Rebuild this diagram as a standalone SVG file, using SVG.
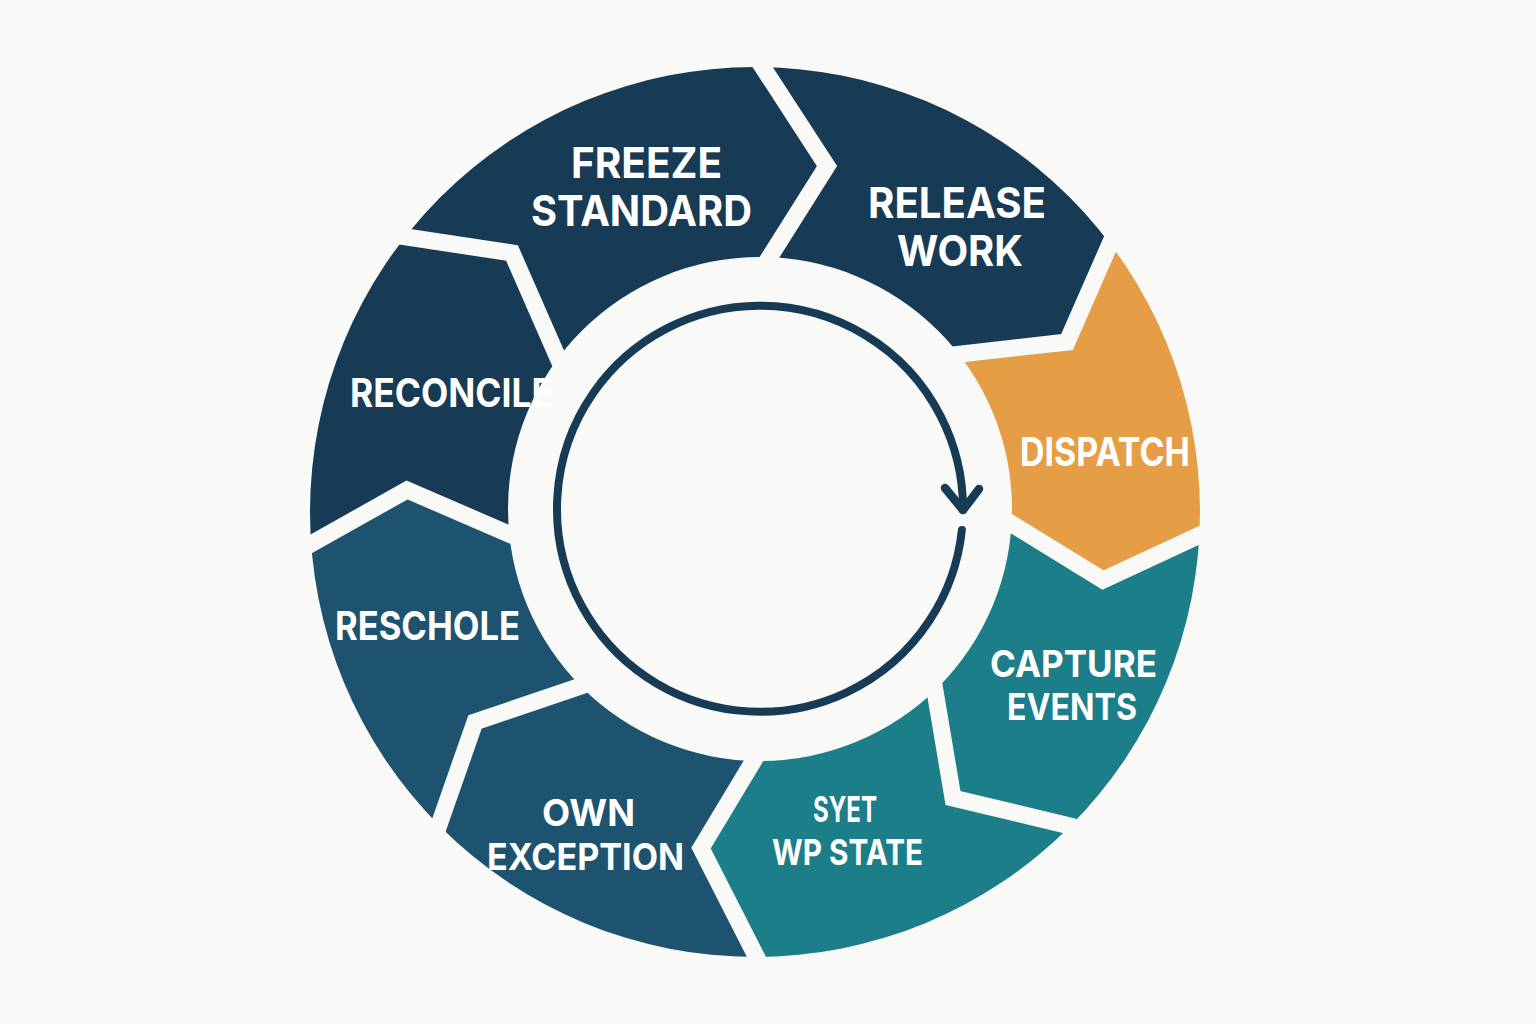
<svg xmlns="http://www.w3.org/2000/svg" width="1536" height="1024" viewBox="0 0 1536 1024">
<defs>
<style>
.bg{fill:#f9f9f7}
.navy{fill:#173a55}
.blue{fill:#1d536e}
.teal{fill:#1c7e89}
.orange{fill:#e59e45}
.gap{fill:none;stroke:#f9f9f7;stroke-width:17;stroke-linejoin:miter;stroke-miterlimit:10}
.lbl{font-family:Inter,"Open Sans","Liberation Sans",sans-serif;font-weight:700;fill:#ffffff;text-anchor:middle}
.big{font-size:43px}
.mid{font-size:39px}
.tight{font-size:37px}
.sm{font-size:36px}
.cyc{fill:none;stroke:#173a55;stroke-width:8;stroke-linecap:round;stroke-linejoin:round}
</style>
<clipPath id="ring">
<path clip-rule="evenodd" d="M310,512 A445,445 0 1,0 1200,512 A445,445 0 1,0 310,512 Z M508,509 A252,252 0 1,1 1012,509 A252,252 0 1,1 508,509 Z"/>
</clipPath>
</defs>
<rect class="bg" x="0" y="0" width="1536" height="1024"/>
<g clip-path="url(#ring)">
<g id="freeze-standard">
<polygon class="navy" points="760,509 571.8,389.5 512,253 374.2,232.2 191.5,100.5 734.4,-190.5 742.5,36 827,166 751.6,285.6"/>
</g>
<g id="release-work">
<polygon class="navy" points="760,509 751.6,285.6 827,166 742.5,36 734.4,-190.5 1302.4,66.6 1124,212 1067,342 929,357.6"/>
</g>
<g id="dispatch">
<polygon class="orange" points="760,509 929,357.6 1067,342 1124,212 1302.4,66.6 1459.8,527.3 1229,521.5 1103,580 984.7,507.2"/>
</g>
<g id="capture-events">
<polygon class="teal" points="760,509 984.7,507.2 1103,580 1229,521.5 1459.8,527.3 1269.5,989.1 1105,834.4 953,798 929.6,658.9"/>
</g>
<g id="set-wp-state">
<polygon class="teal" points="760,509 929.6,658.9 953,798 1105,834.4 1269.5,989.1 779.5,1208.7 773.8,991 701,848 769.9,733.6"/>
</g>
<g id="own-exception">
<polygon class="blue" points="760,509 769.9,733.6 701,848 773.8,991 779.5,1208.7 274.6,1013.4 429.5,852 475,722 612.8,675.2"/>
</g>
<g id="reschole">
<polygon class="blue" points="760,509 612.8,675.2 475,722 429.5,852 274.6,1013.4 64,583.4 282.2,560.2 407,490 539.6,547.2"/>
</g>
<g id="reconcile">
<polygon class="navy" points="760,509 539.6,547.2 407,490 282.2,560.2 64,583.4 191.5,100.5 374.2,232.2 512,253 571.8,389.5"/>
</g>
</g>
<g id="connectors">
<polyline class="gap" points="751.6,285.6 827,166 742.5,36"/>
<polyline class="gap" points="929,357.6 1067,342 1124,212"/>
<polyline class="gap" points="984.7,507.2 1103,580 1229,521.5"/>
<polyline class="gap" points="929.6,658.9 953,798 1105,834.4"/>
<polyline class="gap" points="769.9,733.6 701,848 773.8,991"/>
<polyline class="gap" points="612.8,675.2 475,722 429.5,852"/>
<polyline class="gap" points="539.6,547.2 407,490 282.2,560.2"/>
<polyline class="gap" points="571.8,389.5 512,253 374.2,232.2"/>
<path class="cyc" d="M961.9,529.9 A203,203 0 1,1 963,510"/>
<polyline class="cyc" style="stroke-width:8.5" points="945,488 963,510 979,489"/>
</g>
<g id="labels">
<text class="lbl big" x="646.5" y="178" textLength="151" lengthAdjust="spacingAndGlyphs">FREEZE</text>
<text class="lbl big" x="641.5" y="226" textLength="221" lengthAdjust="spacingAndGlyphs">STANDARD</text>
<text class="lbl big" x="957" y="218" textLength="178" lengthAdjust="spacingAndGlyphs">RELEASE</text>
<text class="lbl big" x="960" y="266" textLength="126" lengthAdjust="spacingAndGlyphs">WORK</text>
<text class="lbl mid" x="350" y="407" style="text-anchor:start" textLength="203" lengthAdjust="spacingAndGlyphs">RECONCILE</text>
<text class="lbl mid" x="1105" y="466" textLength="170" lengthAdjust="spacingAndGlyphs">DISPATCH</text>
<text class="lbl mid" x="427.5" y="640" textLength="185" lengthAdjust="spacingAndGlyphs">RESCHOLE</text>
<text class="lbl tight" x="588.5" y="826" textLength="93" lengthAdjust="spacingAndGlyphs">OWN</text>
<text class="lbl tight" x="585.5" y="870" textLength="197" lengthAdjust="spacingAndGlyphs">EXCEPTION</text>
<text class="lbl tight" x="1073.5" y="677" textLength="167" lengthAdjust="spacingAndGlyphs">CAPTURE</text>
<text class="lbl tight" x="1072" y="720" textLength="130" lengthAdjust="spacingAndGlyphs">EVENTS</text>
<text class="lbl sm" x="845" y="822" textLength="64" lengthAdjust="spacingAndGlyphs">SYET</text>
<text class="lbl sm" x="847.5" y="865" textLength="151" lengthAdjust="spacingAndGlyphs">WP STATE</text>
</g>
</svg>
